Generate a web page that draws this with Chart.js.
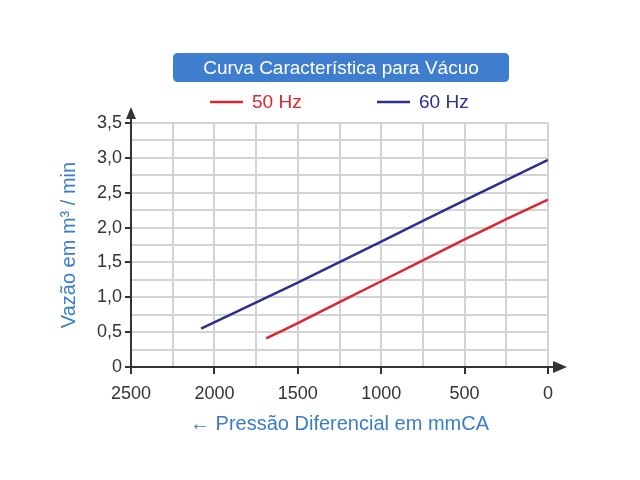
<!DOCTYPE html>
<html>
<head>
<meta charset="utf-8">
<script src="https://cdn.jsdelivr.net/npm/chart.js@4/dist/chart.umd.min.js"></script>
<style>
html,body{margin:0;padding:0;background:#fff;}
#wrap{width:640px;height:480px;position:relative;}
</style>
</head>
<body>
<div id="wrap"><canvas id="c" width="640" height="480"></canvas></div>
<script>
const chartTitle = "Curva Característica para Vácuo";
const seriesNames = ["50 Hz", "60 Hz"];
const pressure50 = [1690, 1500, 1000, 500, 250, 0];
const flow50 = [0.41, 0.63, 1.23, 1.83, 2.12, 2.40];
const pressure60 = [2080, 1500, 1000, 500, 0];
const flow60 = [0.55, 1.21, 1.80, 2.39, 2.97];
const xTitle = "← Pressão Diferencial em mmCA";
const yTitle = "Vazão em m³ / min";

const RED = '#d9262f';
const NAVY = '#2c2f8e';
const FONT = "'Liberation Sans', Arial, sans-serif";

const decor = {
  id: 'decor',
  afterDraw(chart) {
    const ctx = chart.ctx;
    const a = chart.chartArea;
    ctx.save();
    // title box
    const bx = 173, by = 53, bw = 336, bh = 29, r = 5;
    ctx.fillStyle = '#3f7dcf';
    ctx.beginPath();
    ctx.moveTo(bx + r, by);
    ctx.lineTo(bx + bw - r, by); ctx.quadraticCurveTo(bx + bw, by, bx + bw, by + r);
    ctx.lineTo(bx + bw, by + bh - r); ctx.quadraticCurveTo(bx + bw, by + bh, bx + bw - r, by + bh);
    ctx.lineTo(bx + r, by + bh); ctx.quadraticCurveTo(bx, by + bh, bx, by + bh - r);
    ctx.lineTo(bx, by + r); ctx.quadraticCurveTo(bx, by, bx + r, by);
    ctx.fill();
    ctx.fillStyle = '#ffffff';
    ctx.font = '19px ' + FONT;
    ctx.textAlign = 'center';
    ctx.textBaseline = 'middle';
    ctx.fillText(chartTitle, bx + bw / 2, by + bh / 2 + 1);
    // legend
    const items = [
      {x: 210, c: RED, t: chart.data.datasets[0].label},
      {x: 377, c: NAVY, t: chart.data.datasets[1].label}
    ];
    ctx.textAlign = 'left';
    items.forEach(it => {
      ctx.strokeStyle = it.c;
      ctx.lineWidth = 2.5;
      ctx.beginPath();
      ctx.moveTo(it.x, 102); ctx.lineTo(it.x + 33, 102);
      ctx.stroke();
      ctx.fillStyle = it.c;
      ctx.fillText(it.t, it.x + 42, 103);
    });
    // axis arrows
    ctx.strokeStyle = '#333';
    ctx.fillStyle = '#333';
    ctx.lineWidth = 2;
    ctx.beginPath();
    ctx.moveTo(a.left, a.top); ctx.lineTo(a.left, 116);
    ctx.moveTo(a.right, a.bottom); ctx.lineTo(556, a.bottom);
    ctx.stroke();
    ctx.beginPath();
    ctx.moveTo(a.left, 107); ctx.lineTo(a.left - 5, 119); ctx.lineTo(a.left + 5, 119); ctx.closePath();
    ctx.fill();
    ctx.beginPath();
    ctx.moveTo(567, a.bottom); ctx.lineTo(553, a.bottom - 6); ctx.lineTo(553, a.bottom + 6); ctx.closePath();
    ctx.fill();
    ctx.restore();
  }
};

new Chart(document.getElementById('c'), {
  type: 'line',
  data: {
    datasets: [
      {label: seriesNames[0], data: pressure50.map((p, i) => ({x: p, y: flow50[i]})), borderColor: RED, borderWidth: 2.5, pointRadius: 0, tension: 0.1},
      {label: seriesNames[1], data: pressure60.map((p, i) => ({x: p, y: flow60[i]})), borderColor: NAVY, borderWidth: 2.5, pointRadius: 0, tension: 0.1}
    ]
  },
  options: {
    responsive: false,
    animation: false,
    devicePixelRatio: 1,
    layout: {padding: {left: 47, right: 92, top: 123, bottom: 40}},
    plugins: {legend: {display: false}, title: {display: false}, tooltip: {enabled: false}},
    scales: {
      x: {
        type: 'linear', reverse: true, min: 0, max: 2500,
        afterFit(s) { s.height = 73; },
        border: {display: true, color: '#333', width: 2},
        grid: {
          color: '#d3d3d3', lineWidth: 2, drawTicks: true, tickLength: 7, tickWidth: 2,
          tickColor: c => (c.tick && c.tick.value % 500 === 0) ? '#333' : 'rgba(0,0,0,0)'
        },
        ticks: {
          stepSize: 250, autoSkip: false, maxRotation: 0, padding: 9,
          color: '#333', font: {family: FONT, size: 18},
          callback: v => (v % 500 === 0) ? String(v) : ''
        },
        title: {display: true, text: xTitle, color: '#3b7cc9', font: {family: FONT, size: 20}, padding: {top: 0, bottom: 4}}
      },
      y: {
        type: 'linear', min: 0, max: 3.5,
        afterFit(s) { s.width = 84; },
        border: {display: true, color: '#333', width: 2},
        grid: {
          color: '#d3d3d3', lineWidth: 2, drawTicks: true, tickLength: 6, tickWidth: 2,
          tickColor: c => (c.tick && Math.abs(c.tick.value * 2 - Math.round(c.tick.value * 2)) < 1e-9) ? '#333' : 'rgba(0,0,0,0)'
        },
        ticks: {
          stepSize: 0.25, autoSkip: false, padding: 3,
          color: '#333', font: {family: FONT, size: 18},
          callback: v => {
            if (Math.abs(v * 2 - Math.round(v * 2)) > 1e-9) return '';
            if (v === 0) return '0';
            return v.toFixed(1).replace('.', ',');
          }
        },
        title: {display: true, text: yTitle, color: '#3b7cc9', font: {family: FONT, size: 20}, padding: {top: 10, bottom: 0}}
      }
    }
  },
  plugins: [decor]
});
</script>
</body>
</html>
